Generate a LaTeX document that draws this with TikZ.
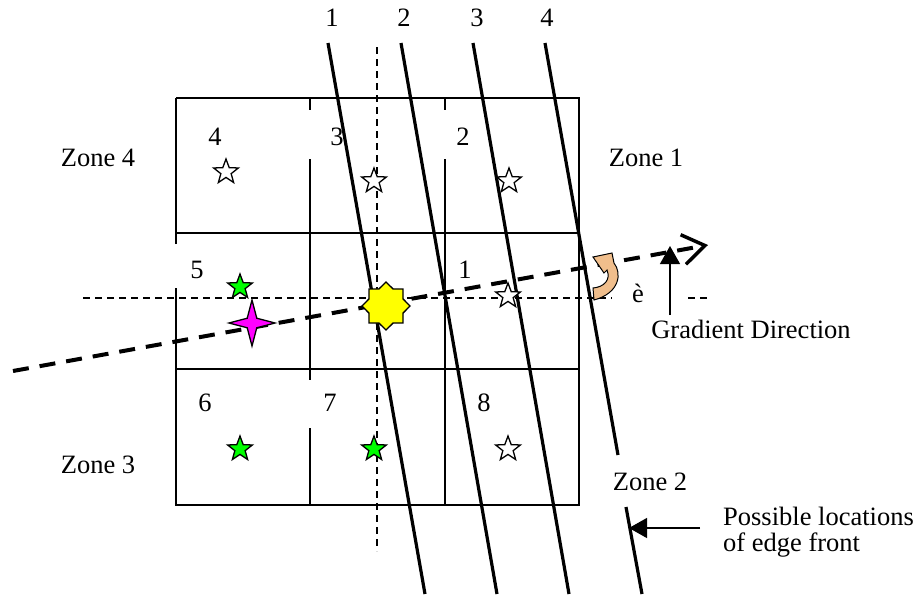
\documentclass[tikz,border=0pt]{standalone}
\usepackage{fontspec}
\setmainfont{Liberation Serif}
\usetikzlibrary{shapes.geometric}
\usetikzlibrary{arrows.meta}
\usepackage{xcolor}
\definecolor{lime}{rgb}{0,1,0}
\definecolor{pink}{rgb}{1,0,1}
\definecolor{sun}{rgb}{1,1,0}
\definecolor{tan}{RGB}{240,190,140}

\begin{document}
\begin{tikzpicture}[x=1pt, y=-1pt,
	t/.style = {inner sep=0, font=\fontsize{26.5}{30}\selectfont},
	w/.style = {star, star points=5, star point ratio=2.4, draw, line width=1.3pt, fill=white, minimum size=26pt, inner sep=0},
	g/.style = {w, fill=lime},
	gl/.style = {line width=2pt},
	front/.style = {line width=3.2pt},
	ax/.style = {line width=1.2pt, dash pattern=on 7pt off 5pt},
	grad/.style = {line width=4pt, dash pattern=on 16pt off 11pt},
	tip/.style = {-{Triangle[length=18pt, width=20pt]}, line width=1.3pt}
	]
	\useasboundingbox (0,0) rectangle (916,595);
	
	%Grid
	\draw[gl]	(176,98) -- (579,98) -- (579,505) -- (176,505) -- (176,288);
	\draw[gl]	(176,244) -- (176,98);
	\draw[gl]	(176,233) -- (579,233);
	\draw[gl]	(176,369) -- (579,369);
	\draw[gl]	(310,98) -- (310,110);
	\draw[gl]	(310,159) -- (310,380);
	\draw[gl]	(310,428) -- (310,505);
	\draw[gl]	(445,98) -- (445,110);
	\draw[gl]	(445,159) -- (445,505);
	
	%Axes
	\draw[ax]	(377,47) -- (377,551);
	\draw[ax]	(83,298) -- (612,298);
	\draw[ax]	(688,298) -- (708,298);
	
	%Edge fronts
	\coordinate (e1a) at (328,43);	\coordinate (e1b) at (425,594);
	\coordinate (e2a) at (401,43);	\coordinate (e2b) at (497,594);
	\coordinate (e3a) at (473,43);	\coordinate (e3b) at (569,594);
	\coordinate (e4a) at (545,43);	\coordinate (e4b) at (618,455);
	\coordinate (e4c) at (626,507);	\coordinate (e4d) at (642,594);
	\draw[front]	(e1a) -- (e1b);
	\draw[front]	(e2a) -- (e2b);
	\draw[front]	(e3a) -- (e3b);
	\draw[front]	(e4a) -- (e4b);
	\draw[front]	(e4c) -- (e4d);
	
	%Gradient
	\coordinate (g0) at (13,371);
	\coordinate (g1) at (708,245);
	\draw[grad, -{Straight Barb[length=22pt, width=30pt, line width=3.5pt]}]	(g0) -- (g1);
	\filldraw[fill=tan, line width=1pt]	(593,257) -- (612,253) -- (614,263)
		.. controls (622,273) and (620,293) .. (594,300) -- (593,288)
		.. controls (604,287) and (611,280) .. (607,270) -- (604,273) -- cycle;
	
	%Stars
	\node[w]	(s4)	at	(226,172)	{};
	\node[w]	(s3)	at	(374,181)	{};
	\node[w]	(s2)	at	(509,181)	{};
	\node[w]	(s1)	at	(508,296)	{};
	\node[g]	(s5)	at	(240,287)	{};
	\node[g]	(s6)	at	(240,449)	{};
	\node[g]	(s7)	at	(374,449)	{};
	\node[w]	(s8)	at	(508,449)	{};
	\node[star, star points=4, star point ratio=3.4, draw, line width=1.3pt, fill=pink, minimum size=46pt, inner sep=0]	(pix)	at	(252,323)	{};
	\node[star, star points=8, star point ratio=1.3, draw, line width=1.3pt, fill=sun, minimum size=48pt, inner sep=0]	(ctr)	at	(386,306)	{};
	
	%Labels
	\node[t]	(n1)	at	(332,18)	{1};
	\node[t]	(n2)	at	(404,18)	{2};
	\node[t]	(n3)	at	(477,18)	{3};
	\node[t]	(n4)	at	(547,18)	{4};
	\node[t]	(c4)	at	(215,137)	{4};
	\node[t]	(c3)	at	(337,137)	{3};
	\node[t]	(c2)	at	(463,137)	{2};
	\node[t]	(c5)	at	(197,270)	{5};
	\node[t]	(c1)	at	(465,270)	{1};
	\node[t]	(c6)	at	(205,403)	{6};
	\node[t]	(c7)	at	(330,403)	{7};
	\node[t]	(c8)	at	(484,403)	{8};
	\node[t]	(z4)	at	(98,158)	{Zone 4};
	\node[t]	(z1)	at	(646,158)	{Zone 1};
	\node[t]	(z3)	at	(98,465)	{Zone 3};
	\node[t]	(z2)	at	(650,482)	{Zone 2};
	\node[t]	(th)	at	(638,293)	{è};
	\node[t]	(gd)	at	(751,329)	{Gradient Direction};
	\node[t, anchor=west]	(pl)	at	(723,516)	{Possible locations};
	\node[t, anchor=west]	(ef)	at	(723,545)	{of edge front};
	
	%Arrows
	\coordinate (ga) at (670,315);
	\coordinate (gb) at (670,246);
	\draw[tip]	(ga) -- (gb);
	\coordinate (pa) at (700,528);
	\coordinate (pb) at (629,528);
	\draw[tip]	(pa) -- (pb);
\end{tikzpicture}
\end{document}
